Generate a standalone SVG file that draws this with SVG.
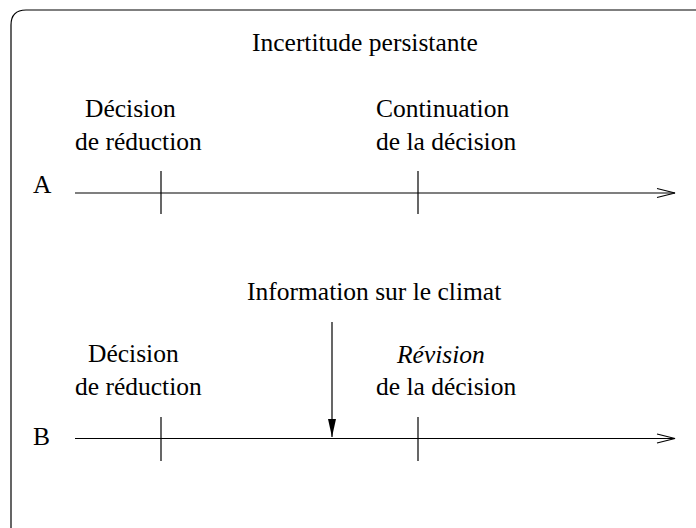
<svg xmlns="http://www.w3.org/2000/svg" width="696" height="528" viewBox="0 0 696 528">
<style>
.t{font-family:'Liberation Serif','DejaVu Serif',serif;font-size:25.5px;fill:#000}
.ln{stroke:#000;stroke-width:1.2;fill:none}
</style>
<defs>
<marker id="open" markerUnits="userSpaceOnUse" markerWidth="24" markerHeight="12" refX="19" refY="6" orient="auto" viewBox="0 0 24 12">
<path d="M1,1.5 L19,6 L1,10.5" fill="none" stroke="#000" stroke-width="1.2"/>
</marker>
<marker id="fill" markerUnits="userSpaceOnUse" markerWidth="20" markerHeight="10" refX="18" refY="5" orient="auto" viewBox="0 0 20 10">
<path d="M0,1 L18,5 L0,9 Z" fill="#000"/>
</marker>
</defs>
<rect width="696" height="528" fill="#fff"/>
<g id="frame"><path class="ln" d="M11,540 L11,25 Q11,10 26,10 L700,10" stroke-width="1.5"/></g>
<g class="t">
<g id="title"><text x="252" y="51">Incertitude persistante</text></g>
<g id="labelA"><text x="33" y="193">A</text></g>
<g id="labelB"><text x="33" y="445">B</text></g>
<g id="A-decision"><text x="85" y="117">Décision</text><text x="75" y="150">de réduction</text></g>
<g id="A-continuation"><text x="376" y="117">Continuation</text><text x="376" y="150">de la décision</text></g>
<g id="info"><text x="247" y="300">Information sur le climat</text></g>
<g id="B-decision"><text x="88" y="362">Décision</text><text x="75" y="395">de réduction</text></g>
<g id="B-revision"><text x="397" y="363" font-style="italic">Révision</text><text x="376" y="395">de la décision</text></g>
</g>
<g id="connectors">
<line class="ln" x1="75" y1="193" x2="675" y2="193" marker-end="url(#open)"/>
<line class="ln" x1="161" y1="171" x2="161" y2="214"/>
<line class="ln" x1="418" y1="171" x2="418" y2="214"/>
<line class="ln" x1="75" y1="438.5" x2="675" y2="438.5" marker-end="url(#open)"/>
<line class="ln" x1="161" y1="417" x2="161" y2="461"/>
<line class="ln" x1="418" y1="417" x2="418" y2="461"/>
<line class="ln" x1="332" y1="322" x2="332" y2="437" marker-end="url(#fill)"/>
</g>
</svg>
